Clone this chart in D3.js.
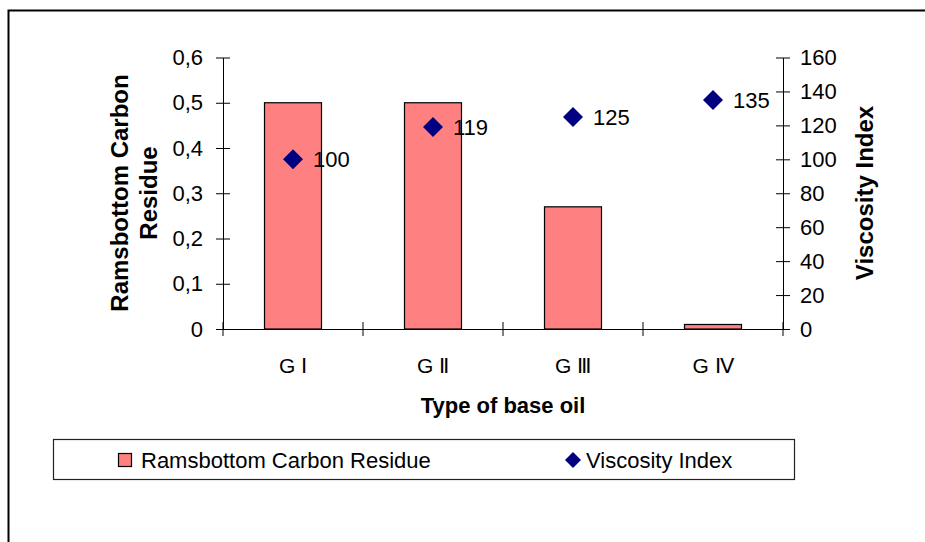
<!DOCTYPE html>
<html>
<head>
<meta charset="utf-8">
<script src="https://cdn.jsdelivr.net/npm/d3@7"></script>
<style>
  body { margin: 0; background: #fff; }
  svg { display: block; font-family: "Liberation Sans", Arial, sans-serif; }
  .axis path, .axis line { stroke: #000; }
  .axis text { fill: #000; }
</style>
</head>
<body>
<div id="chart"></div>
<script>
// data
const categories = ["G Ⅰ", "G Ⅱ", "G Ⅲ", "G Ⅳ"];
const carbonResidue = [0.5, 0.5, 0.27, 0.01];
const viscosityIndex = [100, 119, 125, 135];
const leftTicks = [0, 0.1, 0.2, 0.3, 0.4, 0.5, 0.6];
const rightTicks = [0, 20, 40, 60, 80, 100, 120, 140, 160];

const width = 925, height = 542;
const plot = { left: 223, right: 783, top: 57.5, bottom: 329 };
const barRatio = 57 / 140;
const font = "Liberation Sans, Arial, sans-serif";

const svg = d3.select("#chart").append("svg")
  .attr("width", width)
  .attr("height", height);

// outer chart frame (cut off right and bottom like the original)
svg.append("rect")
  .attr("x", 8.5).attr("y", 10.5)
  .attr("width", width + 20).attr("height", height + 20)
  .attr("fill", "none")
  .attr("stroke", "#000")
  .attr("stroke-width", 2);

const x = d3.scaleBand().domain(categories).range([plot.left, plot.right]);
const yLeft = d3.scaleLinear().domain([0, 0.6]).range([plot.bottom, plot.top]);
const yRight = d3.scaleLinear().domain([0, 160]).range([plot.bottom, plot.top]);

const comma = d3.formatLocale({ decimal: ",", thousands: ".", grouping: [3], currency: ["", ""] }).format(".1f");

// bars
const barW = x.bandwidth() * barRatio;
svg.append("g").selectAll("rect")
  .data(categories)
  .join("rect")
  .attr("x", (d) => x(d) + (x.bandwidth() - barW) / 2)
  .attr("y", (d, i) => yLeft(carbonResidue[i]))
  .attr("width", barW)
  .attr("height", (d, i) => yLeft(0) - yLeft(carbonResidue[i]))
  .attr("fill", "#FF8080")
  .attr("stroke", "#000")
  .attr("stroke-width", 1.2);

// left axis
const gLeft = svg.append("g")
  .attr("class", "axis")
  .attr("transform", `translate(${plot.left},0)`)
  .call(d3.axisLeft(yLeft).tickValues(leftTicks).tickSizeOuter(0).tickSizeInner(7).tickPadding(13)
    .tickFormat((d) => d === 0 ? "0" : comma(d)));
gLeft.selectAll(".tick line").attr("x1", 7);
gLeft.selectAll("text").attr("font-size", 22).attr("font-family", font);

// right axis
const gRight = svg.append("g")
  .attr("class", "axis")
  .attr("transform", `translate(${plot.right},0)`)
  .call(d3.axisRight(yRight).tickValues(rightTicks).tickSizeOuter(0).tickSizeInner(7).tickPadding(10));
gRight.selectAll(".tick line").attr("x1", -7);
gRight.selectAll("text").attr("font-size", 22).attr("font-family", font);

// bottom axis: labels centred in categories, ticks on boundaries
const gBottom = svg.append("g")
  .attr("class", "axis")
  .attr("transform", `translate(0,${plot.bottom})`)
  .call(d3.axisBottom(x).tickSize(0).tickPadding(29));
gBottom.selectAll("text").attr("font-size", 21).attr("font-family", font);
const boundaries = categories.map((c) => x(c)).concat([x.range()[1]]);
gBottom.selectAll(".bound")
  .data(boundaries)
  .join("line")
  .attr("class", "bound")
  .attr("x1", (d) => d).attr("x2", (d) => d)
  .attr("y1", -7).attr("y2", 7)
  .attr("stroke", "#000");

// viscosity index markers
const diamond = d3.symbol().type(d3.symbolSquare).size(200);
const pts = svg.append("g");
pts.selectAll("path")
  .data(categories)
  .join("path")
  .attr("d", diamond)
  .attr("transform", (d, i) => `translate(${x(d) + x.bandwidth() / 2},${yRight(viscosityIndex[i])}) rotate(45)`)
  .attr("fill", "#000080");
pts.selectAll("text")
  .data(categories)
  .join("text")
  .attr("x", (d) => x(d) + x.bandwidth() / 2 + 20)
  .attr("y", (d, i) => yRight(viscosityIndex[i]))
  .attr("dy", "0.36em")
  .attr("font-size", 22)
  .text((d, i) => viscosityIndex[i]);

// axis titles
svg.append("text")
  .attr("transform", "translate(119,193) rotate(-90)")
  .attr("text-anchor", "middle")
  .attr("font-size", 24)
  .attr("font-weight", "bold")
  .selectAll("tspan")
  .data(["Ramsbottom Carbon", "Residue"])
  .join("tspan")
  .attr("x", 0)
  .attr("dy", (d, i) => i === 0 ? "0.36em" : 29)
  .text((d) => d);

svg.append("text")
  .attr("transform", "translate(864,193) rotate(-90)")
  .attr("text-anchor", "middle")
  .attr("dy", "0.36em")
  .attr("font-size", 24)
  .attr("font-weight", "bold")
  .text("Viscosity Index");

svg.append("text")
  .attr("x", (plot.left + plot.right) / 2)
  .attr("y", 413)
  .attr("text-anchor", "middle")
  .attr("font-size", 22)
  .attr("font-weight", "bold")
  .text("Type of base oil");

// legend
const legend = svg.append("g");
legend.append("rect")
  .attr("x", 53.5).attr("y", 439.5)
  .attr("width", 741).attr("height", 40)
  .attr("fill", "#fff")
  .attr("stroke", "#222")
  .attr("stroke-width", 1.2);
legend.append("rect")
  .attr("x", 118.5).attr("y", 453.5)
  .attr("width", 13).attr("height", 13)
  .attr("fill", "#FF8080")
  .attr("stroke", "#000")
  .attr("stroke-width", 1.2);
legend.append("text")
  .attr("x", 141).attr("y", 460)
  .attr("dy", "0.36em")
  .attr("font-size", 22)
  .text("Ramsbottom Carbon Residue");
legend.append("path")
  .attr("d", d3.symbol().type(d3.symbolSquare).size(128)())
  .attr("transform", "translate(573,460) rotate(45)")
  .attr("fill", "#000080");
legend.append("text")
  .attr("x", 586).attr("y", 460)
  .attr("dy", "0.36em")
  .attr("font-size", 22)
  .text("Viscosity Index");
</script>
</body>
</html>
